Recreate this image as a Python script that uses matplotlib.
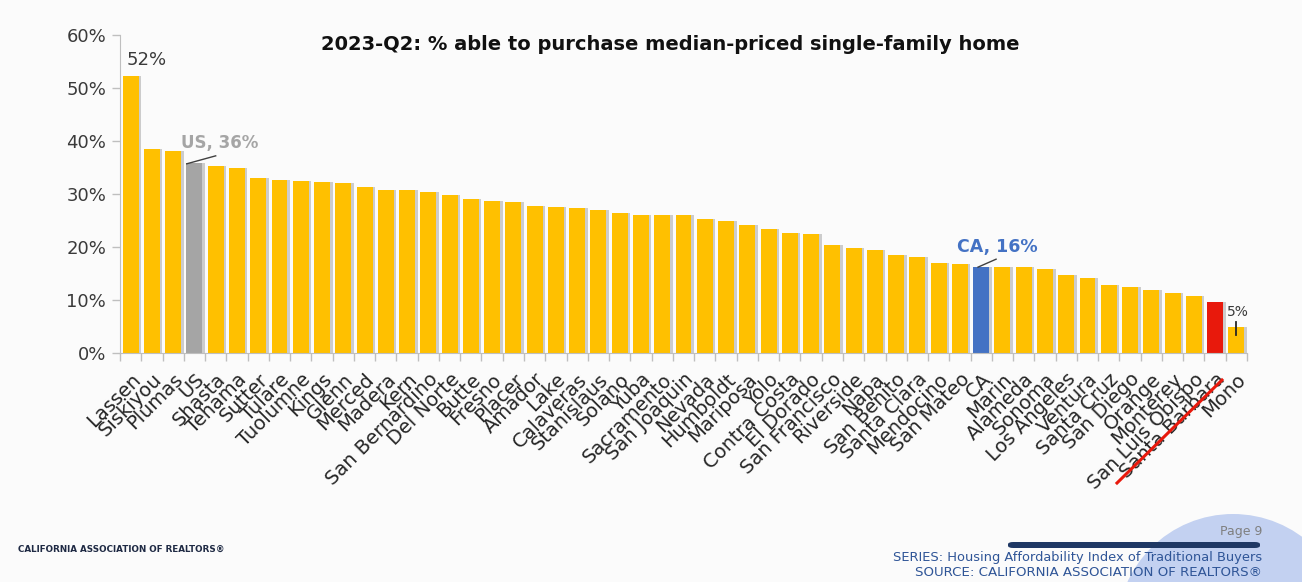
import matplotlib
matplotlib.use("Agg")
import matplotlib.pyplot as plt
from matplotlib.patches import Circle, FancyBboxPatch
from matplotlib.lines import Line2D
import numpy as np

# Share of households able to buy the median-priced single-family home, 2023-Q2
counties = ["Lassen", "Siskiyou", "Plumas", "US", "Shasta", "Tehama", "Sutter", "Tulare",
            "Tuolumne", "Kings", "Glenn", "Merced", "Madera", "Kern", "San Bernardino",
            "Del Norte", "Butte", "Fresno", "Placer", "Amador", "Lake", "Calaveras",
            "Stanislaus", "Solano", "Yuba", "Sacramento", "San Joaquin", "Nevada",
            "Humboldt", "Mariposa", "Yolo", "Contra Costa", "El Dorado", "San Francisco",
            "Riverside", "Napa", "San Benito", "Santa Clara", "Mendocino", "San Mateo",
            "CA", "Marin", "Alameda", "Sonoma", "Los Angeles", "Ventura", "Santa Cruz",
            "San Diego", "Orange", "Monterey", "San Luis Obispo", "Santa Barbara", "Mono"]
pct_able = [52.3, 38.5, 38.2, 35.8, 35.2, 35.0, 33.0, 32.7,
            32.4, 32.3, 32.0, 31.3, 30.8, 30.8, 30.3,
            29.9, 29.1, 28.7, 28.5, 27.7, 27.6, 27.3,
            26.9, 26.4, 26.0, 26.0, 26.0, 25.2,
            25.0, 24.2, 23.4, 22.7, 22.5, 20.4,
            19.9, 19.4, 18.5, 18.1, 17.0, 16.8,
            16.3, 16.2, 16.2, 15.9, 14.8, 14.2, 12.8,
            12.5, 11.8, 11.4, 10.8, 9.6, 4.9]
yticks = [0, 10, 20, 30, 40, 50, 60]

YELLOW = "#FFC000"
highlight = {"US": "#A5A5A5", "CA": "#4472C4", "Santa Barbara": "#E8190C"}
colors = [highlight.get(c, YELLOW) for c in counties]

bg = "#FBFBFB"
fig = plt.figure(figsize=(13.02, 5.82), dpi=100, facecolor=bg)

# decorative circle in the footer corner (inches, origin bottom-left)
fig.add_artist(Circle((12.33, -0.48), 1.16, transform=fig.dpi_scale_trans,
                      facecolor="#C3D1F1", edgecolor="none", zorder=0))

ax = fig.add_axes([120 / 1302, 1 - 353 / 582, (1247 - 120) / 1302, (353 - 35) / 582])
ax.set_facecolor("none")

x = np.arange(len(counties))
# soft shadow behind each bar
ax.bar(x + 0.12, pct_able, width=0.75, color="#B9B9B9", alpha=0.7, zorder=1)
ax.bar(x, pct_able, width=0.75, color=colors, zorder=2)

ax.set_xlim(-0.5, len(counties) - 0.5)
ax.set_ylim(0, 60)
ax.set_yticks(yticks)
ax.set_yticklabels([f"{t}%" for t in yticks], fontsize=13, color="#3A3A3A")

ax.set_xticks(x)
ax.set_xticklabels(counties, rotation=45, ha="right", rotation_mode="anchor",
                   fontsize=14, color="#262626")
ax.tick_params(axis="x", which="major", length=0, pad=12)
ax.set_xticks(np.arange(-0.5, len(counties)), minor=True)
ax.tick_params(axis="x", which="minor", length=6, color="#BFBFBF", width=1)
ax.tick_params(axis="y", length=6, color="#BFBFBF", width=1, pad=4)

for side in ["top", "right"]:
    ax.spines[side].set_visible(False)
ax.spines["left"].set_color("#BFBFBF")
ax.spines["bottom"].set_color("#BFBFBF")

# callouts
ax.text(0.75, 55.3, "52%", ha="center", va="center", fontsize=13, color="#3A3A3A")
ax.text(2.36, 39.6, "US, 36%", ha="left", va="center", fontsize=12, fontweight="bold",
        color="#A5A5A5")
ax.plot([2.64, 4.0], [35.7, 37.2], color="#404040", lw=1, zorder=3)
ax.text(38.86, 20.0, "CA, 16%", ha="left", va="center", fontsize=12.5, fontweight="bold",
        color="#4472C4")
ax.plot([39.85, 40.7], [16.2, 17.7], color="#404040", lw=1, zorder=3)
ax.text(52.06, 7.7, "5%", ha="center", va="center", fontsize=10, color="#3A3A3A")
ax.plot([52.0, 52.0], [3.4, 5.9], color="#262626", lw=1.3, zorder=3)

fig.text(0.515, 1 - 45 / 582, "2023-Q2: % able to purchase median-priced single-family home",
         ha="center", va="center", fontsize=14, fontweight="bold", color="#111111")

# strike-through over the Santa Barbara label
fig.add_artist(Line2D([1117 / 1302, 1222 / 1302], [1 - 483 / 582, 1 - 380 / 582],
                      color="#E8190C", lw=2.2))

# footer
fig.text(18 / 1302, 1 - 549 / 582, "CALIFORNIA ASSOCIATION OF REALTORS\u00ae", ha="left",
         va="center", fontsize=6.3, fontweight="bold", color="#1F2A44")
fig.text(1262 / 1302, 1 - 531 / 582, "Page 9", ha="right", va="center", fontsize=9,
         color="#7F7F7F")
fig.add_artist(FancyBboxPatch((1008 / 1302, 1 - 548 / 582), 252 / 1302, 6 / 582,
                              boxstyle="round,pad=0,rounding_size=0.004",
                              transform=fig.transFigure, facecolor="#1F3864",
                              edgecolor="none"))
fig.text(1262 / 1302, 1 - 557 / 582, "SERIES: Housing Affordability Index of Traditional Buyers",
         ha="right", va="center", fontsize=9.4, color="#2F5597")
fig.text(1262 / 1302, 1 - 572 / 582, "SOURCE: CALIFORNIA ASSOCIATION OF REALTORS\u00ae",
         ha="right", va="center", fontsize=9.6, color="#2F5597")

fig.savefig("out.png", dpi=100, facecolor=bg)
